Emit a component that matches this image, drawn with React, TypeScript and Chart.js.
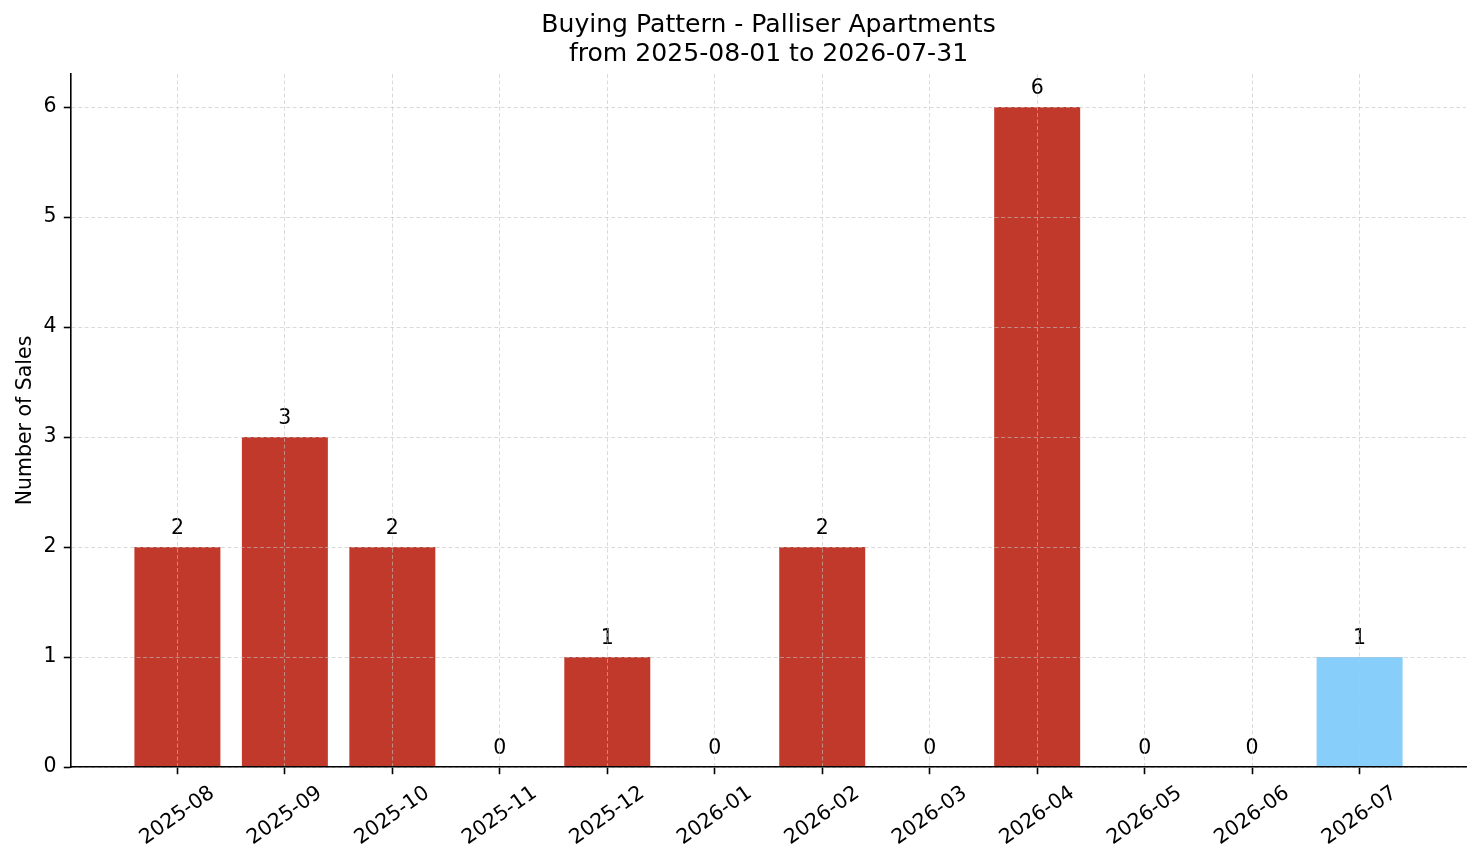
import { useEffect, useRef } from "react";
import { Chart, registerables } from "chart.js";

Chart.register(...registerables);

const months = [
  "2025-08", "2025-09", "2025-10", "2025-11", "2025-12", "2026-01",
  "2026-02", "2026-03", "2026-04", "2026-05", "2026-06", "2026-07",
];
const sales = [2, 3, 2, 0, 1, 0, 2, 0, 6, 0, 0, 1];
const yTicks = [0, 1, 2, 3, 4, 5, 6];
const titleLines = ["Buying Pattern - Palliser Apartments", "from 2025-08-01 to 2026-07-31"];
const yLabel = "Number of Sales";
const currentMonth = "2026-07";

const FONT = "'DejaVu Sans', sans-serif";
const TICK_SIZE = 20.5;

// value labels above each bar
const valueLabels = {
  id: "valueLabels",
  afterDatasetsDraw(chart: Chart) {
    const { ctx } = chart;
    const meta = chart.getDatasetMeta(0);
    const y = chart.scales.y;
    ctx.save();
    ctx.font = `${TICK_SIZE}px ${FONT}`;
    ctx.fillStyle = "#000";
    ctx.textAlign = "center";
    ctx.textBaseline = "alphabetic";
    meta.data.forEach((bar: any, i) => {
      ctx.fillText(String(sales[i]), bar.x, y.getPixelForValue(sales[i] + 0.12));
    });
    ctx.restore();
  },
};

// rotated, centred month labels (matplotlib style)
const monthLabels = {
  id: "monthLabels",
  afterDraw(chart: Chart) {
    const { ctx, chartArea } = chart;
    const x = chart.scales.x;
    const rot = (35 * Math.PI) / 180;
    const h = TICK_SIZE * 1.17;
    ctx.save();
    ctx.font = `${TICK_SIZE}px ${FONT}`;
    ctx.fillStyle = "#000";
    ctx.textAlign = "center";
    ctx.textBaseline = "middle";
    months.forEach((m, i) => {
      const w = ctx.measureText(m).width;
      const hr = w * Math.sin(rot) + h * Math.cos(rot);
      ctx.save();
      ctx.translate(x.getPixelForValue(i), chartArea.bottom + 14.4 + hr / 2);
      ctx.rotate(-rot);
      ctx.fillText(m, 0, 0);
      ctx.restore();
    });
    ctx.restore();
  },
};

export default function App() {
  const chartRef = useRef<HTMLCanvasElement | null>(null);
  const chartInstance = useRef<Chart | null>(null);

  useEffect(() => {
    if (!chartRef.current) return;
    if (chartInstance.current) chartInstance.current.destroy();
    const ctx = chartRef.current.getContext("2d");
    if (!ctx) return;

    const gridColor = "rgba(195, 195, 195, 0.6)";

    chartInstance.current = new Chart(ctx, {
      type: "bar",
      data: {
        datasets: [
          {
            data: sales.map((v, i) => ({ x: i, y: v })),
            backgroundColor: months.map((m) => (m === currentMonth ? "#87cefa" : "#c0392b")),
            borderWidth: 0,
            barPercentage: 0.8,
            categoryPercentage: 1,
          },
        ],
      },
      options: {
        animation: false,
        responsive: true,
        maintainAspectRatio: false,
        layout: { padding: { top: 0, right: 15, bottom: 0, left: 0 } },
        plugins: {
          legend: { display: false },
          tooltip: { enabled: false },
          title: {
            display: true,
            fullSize: false,
            text: titleLines,
            color: "#000",
            font: { family: FONT, size: 25.1, weight: "normal", lineHeight: 1.14 },
            padding: { top: 11.5, bottom: 5.3 },
          },
        },
        scales: {
          x: {
            type: "linear",
            min: -0.99,
            max: 11.99,
            offset: false,
            afterBuildTicks: (scale: any) => {
              scale.ticks = months.map((_, i) => ({ value: i }));
            },
            afterFit: (scale: any) => {
              scale.height = 96;
            },
            ticks: { display: false },
            grid: {
              offset: false,
              color: gridColor,
              lineWidth: 1,
              drawTicks: true,
              tickLength: 7.2,
              tickColor: "#000",
              tickWidth: 1.6,
              z: 1,
            },
            border: { display: true, color: "#000", width: 1.6, dash: [4, 2.5], z: 2 },
          },
          y: {
            type: "linear",
            min: 0,
            max: 6.3,
            afterBuildTicks: (scale: any) => {
              scale.ticks = yTicks.map((v) => ({ value: v }));
            },
            afterFit: (scale: any) => {
              scale.width = 71;
            },
            ticks: {
              color: "#000",
              padding: 7.2,
              font: { family: FONT, size: TICK_SIZE },
              callback: (v: any) => String(v),
            },
            grid: {
              color: gridColor,
              lineWidth: 1,
              drawTicks: true,
              tickLength: 7.2,
              tickColor: "#000",
              tickWidth: 1.6,
              z: 1,
            },
            border: { display: true, color: "#000", width: 1.6, dash: [4, 2.5], z: 2 },
            title: {
              display: true,
              text: yLabel,
              color: "#000",
              font: { family: FONT, size: TICK_SIZE },
              padding: { top: 13, bottom: 0 },
            },
          },
        },
      },
      plugins: [valueLabels, monthLabels],
    });

    return () => {
      if (chartInstance.current) {
        chartInstance.current.destroy();
        chartInstance.current = null;
      }
    };
  }, []);

  return (
    <div style={{ position: "fixed", left: 0, top: 0, width: 1481, height: 863, background: "#fff" }}>
      <canvas ref={chartRef} />
    </div>
  );
}
